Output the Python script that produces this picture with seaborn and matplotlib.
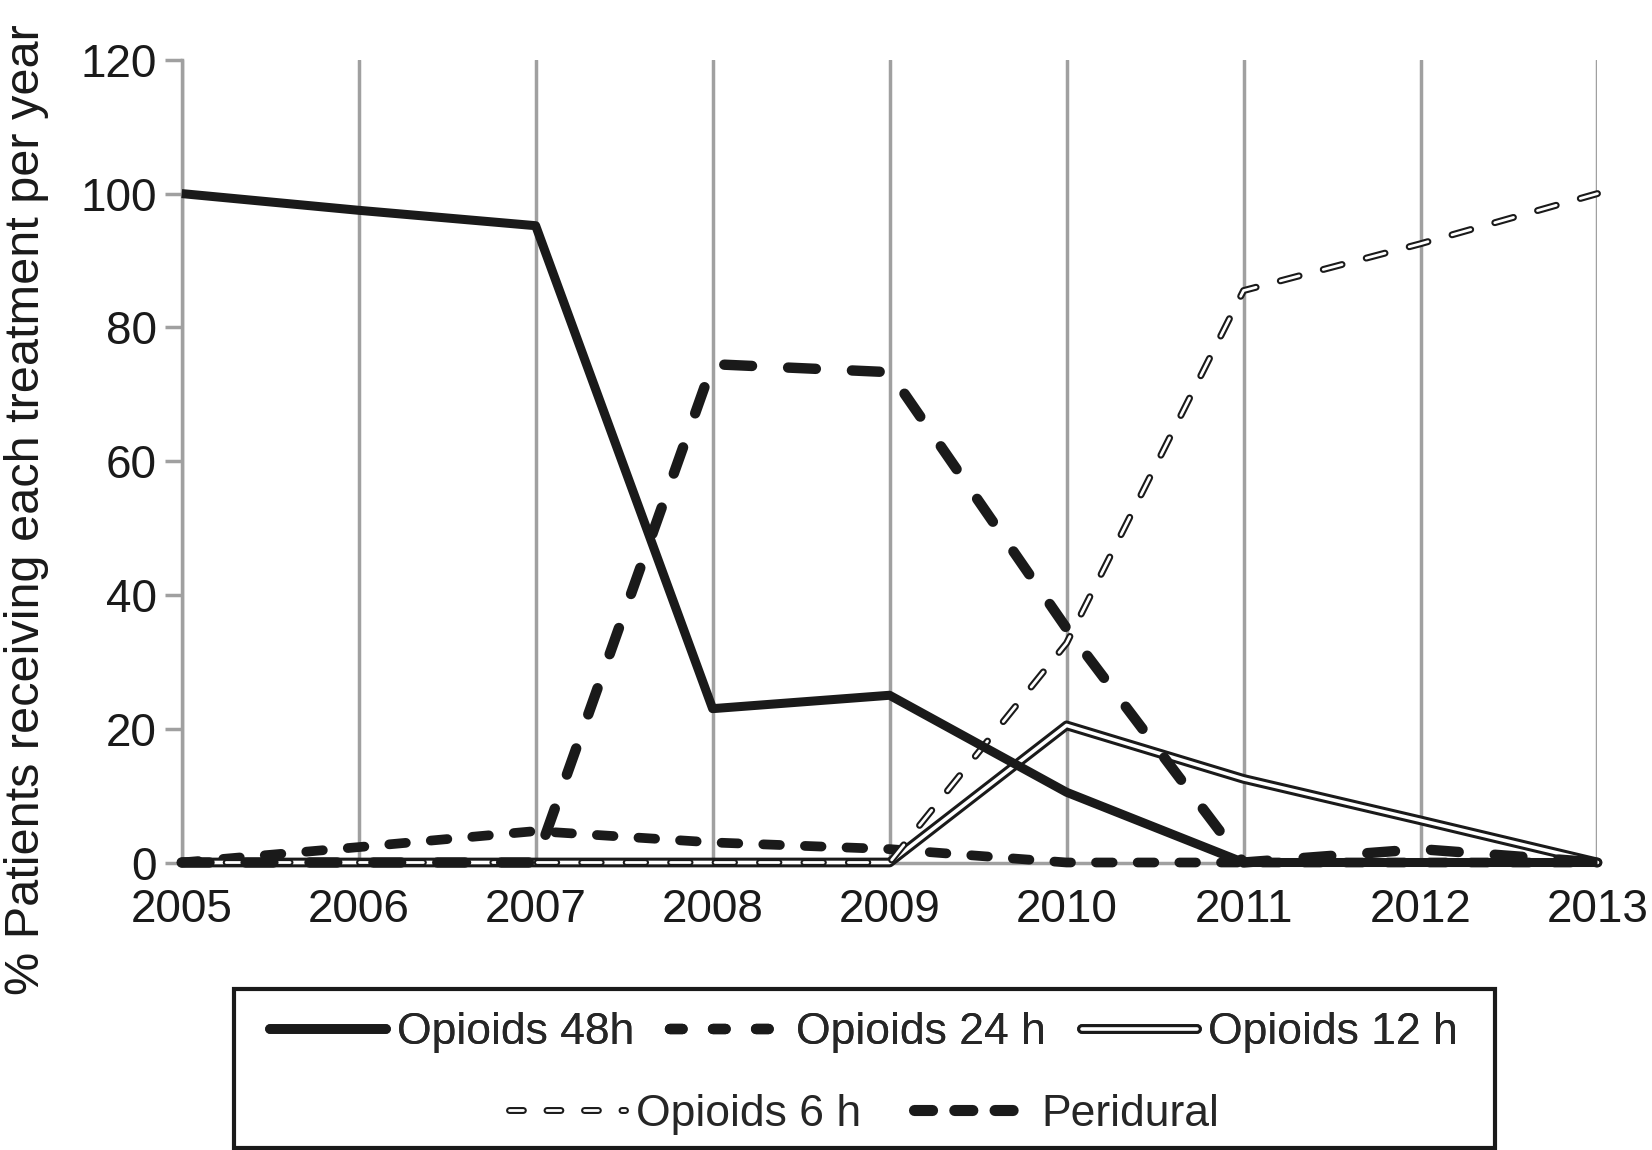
import matplotlib
matplotlib.use('Agg')
import matplotlib.pyplot as plt
import seaborn as sns
from matplotlib.lines import Line2D
from matplotlib.patches import Rectangle
from matplotlib.legend_handler import HandlerTuple

# Datos
years = [2005, 2006, 2007, 2008, 2009, 2010, 2011, 2012, 2013]
opioids_48h = [100, 97.5, 95.2, 23, 25, 10.5, 0, 0, 0]
opioids_24h = [0, 0, 0, 74.5, 73.3, 35, 0, 2, 0]
opioids_12h = [0, 0, 0, 0, 0, 20.5, 12.5, 6.3, 0]
opioids_6h = [0, 0, 0, 0, 0, 32.8, 85.5, 92.5, 100]
peridural = [0, 2.3, 4.7, 3, 2, 0, 0, 0, 0]
labels = ['Opioids 48h', 'Opioids 24 h', 'Opioids 12 h', 'Opioids 6 h', 'Peridural']

sns.set_style('white')
plt.rcParams['font.family'] = ['Liberation Sans', 'DejaVu Sans']
plt.rcParams['lines.scale_dashes'] = False

narrow = ['Liberation Sans Narrow', 'Liberation Sans', 'DejaVu Sans']
black = '#1a1a1a'

fig = plt.figure(figsize=(16.52, 11.5), dpi=100)
ax = fig.add_axes([0.110, 0.250, 0.857, 0.698])

# estilos de cada serie
dash24 = (0, (20, 26))
dashper = (0, (12, 18))
dash6 = (0, (14, 18))

sns.lineplot(x=years, y=peridural, ax=ax, color=black, linewidth=7,
             linestyle=dashper, dash_capstyle='round', clip_on=False, zorder=3)
sns.lineplot(x=years, y=opioids_12h, ax=ax, color=black, linewidth=7,
             clip_on=False, zorder=4)
sns.lineplot(x=years, y=opioids_12h, ax=ax, color='white', linewidth=2.6,
             clip_on=False, zorder=4.1)
sns.lineplot(x=years, y=opioids_6h, ax=ax, color=black, linewidth=5,
             linestyle=dash6, dash_capstyle='round', clip_on=False, zorder=5)
sns.lineplot(x=years, y=opioids_6h, ax=ax, color='white', linewidth=2,
             linestyle=dash6, dash_capstyle='round', clip_on=False, zorder=5.1)
sns.lineplot(x=years, y=opioids_24h, ax=ax, color=black, linewidth=7.5,
             linestyle=dash24, dash_capstyle='round', clip_on=False, zorder=6)
sns.lineplot(x=years, y=opioids_48h, ax=ax, color=black, linewidth=6.5,
             solid_capstyle='butt', clip_on=False, zorder=7)

ax.set_xlim(2005, 2013)
ax.set_ylim(0, 120)
ax.set_xticks(years)
ax.set_yticks(range(0, 121, 20))
ax.tick_params(axis='x', labelsize=33, length=0, pad=18, colors=black)
ax.tick_params(axis='y', labelsize=33, length=12, width=2.5, color='#a0a0a0',
               labelcolor=black, pad=6, left=True)
ax.grid(axis='x', color='#a0a0a0', linewidth=2.5)
ax.grid(axis='y', visible=False)
for s in ['top', 'right']:
    ax.spines[s].set_visible(False)
ax.spines['left'].set_color('#a0a0a0')
ax.spines['left'].set_linewidth(2.5)
ax.spines['bottom'].set_color('#a0a0a0')
ax.spines['bottom'].set_linewidth(2.5)

ax.set_ylabel('% Patients receiving each treatment per year', fontsize=35,
              family=narrow, color=black)
ax.yaxis.set_label_coords(-0.094, 0.44)

# leyenda con lineas dobles
h48 = Line2D([], [], color=black, linewidth=7, solid_capstyle='round')
h24 = Line2D([], [], color=black, linewidth=7.5, linestyle=(0, (9, 22)),
             dash_capstyle='round')
h12 = (Line2D([], [], color=black, linewidth=7, solid_capstyle='round'),
       Line2D([], [], color='white', linewidth=2.6, solid_capstyle='round'))
h6 = (Line2D([], [], color=black, linewidth=5, linestyle=(0, (10, 17)),
             dash_capstyle='round'),
      Line2D([], [], color='white', linewidth=2, linestyle=(0, (10, 17)),
             dash_capstyle='round'))
hper = Line2D([], [], color=black, linewidth=8, linestyle=(0, (13, 16)),
              dash_capstyle='round')

leg_font = {'family': narrow, 'size': 32}
hmap = {tuple: HandlerTuple(ndivide=1, pad=0)}
leg1 = fig.legend([h48, h24, h12], labels[:3], loc='center',
                  bbox_to_anchor=(0.523, 0.102), ncol=3, frameon=False,
                  prop=leg_font, handlelength=2.6, handletextpad=0.25,
                  columnspacing=0.8, handler_map=hmap)
leg2 = fig.legend([h6, hper], labels[3:], loc='center',
                  bbox_to_anchor=(0.523, 0.031), ncol=2, frameon=False,
                  prop=leg_font, handlelength=2.6, handletextpad=0.25,
                  columnspacing=1.2, handler_map=hmap)
fig.add_artist(leg1)

fig.patches.append(Rectangle((0.1416, 0.002), 0.7634, 0.138, transform=fig.transFigure,
                             fill=False, edgecolor=black, linewidth=3))

plt.savefig('out.png', dpi=100)
plt.clf()
